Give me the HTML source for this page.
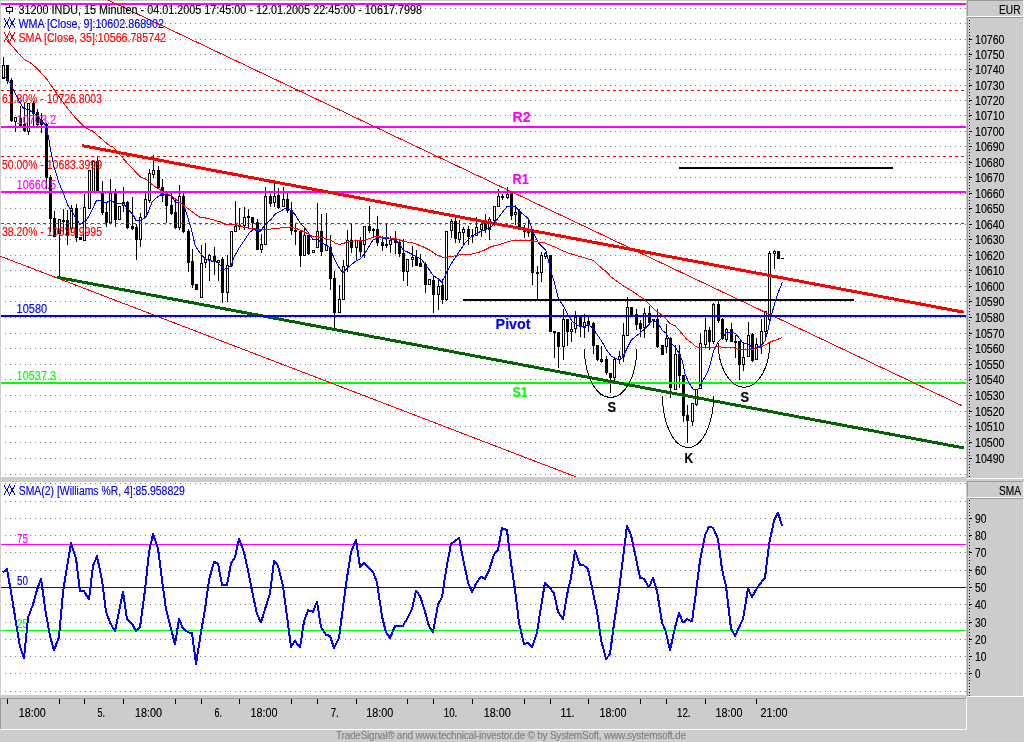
<!DOCTYPE html><html><head><meta charset="utf-8"><title>TradeSignal chart</title><style>html,body{margin:0;padding:0;background:#ccc;overflow:hidden}svg{display:block}text{font-family:"Liberation Sans",sans-serif}</style></head><body><svg width="1024" height="742" viewBox="0 0 1024 742" font-family='"Liberation Sans", sans-serif' shape-rendering="crispEdges"><defs><pattern id="gd" x="0" y="0" width="5" height="1" patternUnits="userSpaceOnUse"><rect x="0" y="0" width="1" height="1" fill="#808080"/></pattern><filter id="crisp" x="-5%" y="-20%" width="110%" height="140%"><feComponentTransfer><feFuncA type="gamma" amplitude="1" exponent="0.75" offset="0"/></feComponentTransfer></filter><pattern id="dash" x="1" y="0" width="6" height="1" patternUnits="userSpaceOnUse"><rect x="0" y="0" width="3" height="1" fill="#ff0000"/></pattern><pattern id="vd" x="0" y="2" width="1" height="3" patternUnits="userSpaceOnUse"><rect x="0" y="0" width="1" height="1" fill="#000"/></pattern></defs><rect x="0" y="0" width="1024" height="742" fill="#cccccc"/>
<rect x="1" y="1" width="965" height="476" fill="#fff"/>
<rect x="1" y="482" width="965" height="213" fill="#fff"/>
<rect x="967" y="0" width="57" height="17" fill="#cccccc"/>
<rect x="967" y="0" width="57" height="1" fill="#999999"/>
<rect x="967" y="0" width="1" height="17" fill="#999999"/>
<rect x="967" y="16" width="57" height="1" fill="#fff"/>
<rect x="1023" y="0" width="1" height="17" fill="#fff"/>
<rect x="967" y="17" width="57" height="462" fill="#cccccc"/>
<rect x="967" y="17" width="57" height="1" fill="#999999"/>
<rect x="967" y="17" width="1" height="462" fill="#999999"/>
<rect x="967" y="478" width="57" height="1" fill="#fff"/>
<rect x="1023" y="17" width="1" height="462" fill="#fff"/>
<rect x="967" y="481" width="57" height="17" fill="#cccccc"/>
<rect x="967" y="481" width="57" height="1" fill="#999999"/>
<rect x="967" y="481" width="1" height="17" fill="#999999"/>
<rect x="967" y="497" width="57" height="1" fill="#fff"/>
<rect x="1023" y="481" width="1" height="17" fill="#fff"/>
<rect x="967" y="498" width="57" height="199" fill="#cccccc"/>
<rect x="967" y="498" width="57" height="1" fill="#999999"/>
<rect x="967" y="498" width="1" height="199" fill="#999999"/>
<rect x="967" y="696" width="57" height="1" fill="#fff"/>
<rect x="1023" y="498" width="1" height="199" fill="#fff"/>
<rect x="0" y="698" width="967" height="32" fill="#cccccc"/>
<rect x="0" y="698" width="967" height="1" fill="#999999"/>
<rect x="0" y="698" width="1" height="32" fill="#999999"/>
<rect x="0" y="729" width="967" height="1" fill="#fff"/>
<rect x="966" y="698" width="1" height="32" fill="#fff"/>
<rect x="5" y="8" width="961" height="1" fill="url(#gd)"/>
<rect x="5" y="23" width="961" height="1" fill="url(#gd)"/>
<rect x="5" y="39" width="961" height="1" fill="url(#gd)"/>
<rect x="5" y="54" width="961" height="1" fill="url(#gd)"/>
<rect x="5" y="69" width="961" height="1" fill="url(#gd)"/>
<rect x="5" y="85" width="961" height="1" fill="url(#gd)"/>
<rect x="5" y="100" width="961" height="1" fill="url(#gd)"/>
<rect x="5" y="115" width="961" height="1" fill="url(#gd)"/>
<rect x="5" y="131" width="961" height="1" fill="url(#gd)"/>
<rect x="5" y="146" width="961" height="1" fill="url(#gd)"/>
<rect x="5" y="162" width="961" height="1" fill="url(#gd)"/>
<rect x="5" y="177" width="961" height="1" fill="url(#gd)"/>
<rect x="5" y="193" width="961" height="1" fill="url(#gd)"/>
<rect x="5" y="208" width="961" height="1" fill="url(#gd)"/>
<rect x="5" y="224" width="961" height="1" fill="url(#gd)"/>
<rect x="5" y="239" width="961" height="1" fill="url(#gd)"/>
<rect x="5" y="255" width="961" height="1" fill="url(#gd)"/>
<rect x="5" y="270" width="961" height="1" fill="url(#gd)"/>
<rect x="5" y="286" width="961" height="1" fill="url(#gd)"/>
<rect x="5" y="301" width="961" height="1" fill="url(#gd)"/>
<rect x="5" y="317" width="961" height="1" fill="url(#gd)"/>
<rect x="5" y="333" width="961" height="1" fill="url(#gd)"/>
<rect x="5" y="348" width="961" height="1" fill="url(#gd)"/>
<rect x="5" y="364" width="961" height="1" fill="url(#gd)"/>
<rect x="5" y="379" width="961" height="1" fill="url(#gd)"/>
<rect x="5" y="395" width="961" height="1" fill="url(#gd)"/>
<rect x="5" y="411" width="961" height="1" fill="url(#gd)"/>
<rect x="5" y="426" width="961" height="1" fill="url(#gd)"/>
<rect x="5" y="442" width="961" height="1" fill="url(#gd)"/>
<rect x="5" y="458" width="961" height="1" fill="url(#gd)"/>
<rect x="5" y="474" width="961" height="1" fill="url(#gd)"/>
<rect x="5" y="483" width="961" height="1" fill="url(#gd)"/>
<rect x="5" y="501" width="961" height="1" fill="url(#gd)"/>
<rect x="5" y="518" width="961" height="1" fill="url(#gd)"/>
<rect x="5" y="535" width="961" height="1" fill="url(#gd)"/>
<rect x="5" y="552" width="961" height="1" fill="url(#gd)"/>
<rect x="5" y="570" width="961" height="1" fill="url(#gd)"/>
<rect x="5" y="587" width="961" height="1" fill="url(#gd)"/>
<rect x="5" y="604" width="961" height="1" fill="url(#gd)"/>
<rect x="5" y="622" width="961" height="1" fill="url(#gd)"/>
<rect x="5" y="639" width="961" height="1" fill="url(#gd)"/>
<rect x="5" y="656" width="961" height="1" fill="url(#gd)"/>
<rect x="5" y="673" width="961" height="1" fill="url(#gd)"/>
<rect x="5" y="691" width="961" height="1" fill="url(#gd)"/>
<rect x="3" y="57" width="1" height="22" fill="#000"/>
<rect x="2" y="65" width="3" height="14" fill="#000"/>
<rect x="3" y="66" width="1" height="12" fill="#fff"/>
<rect x="7" y="65" width="1" height="19" fill="#000"/>
<rect x="6" y="65" width="3" height="16" fill="#000"/>
<rect x="11" y="78" width="1" height="44" fill="#000"/>
<rect x="10" y="80" width="3" height="41" fill="#000"/>
<rect x="15" y="117" width="1" height="15" fill="#000"/>
<rect x="14" y="117" width="3" height="5" fill="#000"/>
<rect x="15" y="118" width="1" height="3" fill="#fff"/>
<rect x="20" y="106" width="1" height="21" fill="#000"/>
<rect x="19" y="118" width="3" height="8" fill="#000"/>
<rect x="24" y="103" width="1" height="29" fill="#000"/>
<rect x="23" y="124" width="3" height="7" fill="#000"/>
<rect x="28" y="103" width="1" height="32" fill="#000"/>
<rect x="27" y="103" width="3" height="29" fill="#000"/>
<rect x="28" y="104" width="1" height="27" fill="#fff"/>
<rect x="33" y="101" width="1" height="26" fill="#000"/>
<rect x="32" y="103" width="3" height="11" fill="#000"/>
<rect x="37" y="109" width="1" height="17" fill="#000"/>
<rect x="36" y="112" width="3" height="13" fill="#000"/>
<rect x="41" y="113" width="1" height="20" fill="#000"/>
<rect x="40" y="120" width="3" height="5" fill="#000"/>
<rect x="46" y="123" width="1" height="66" fill="#000"/>
<rect x="45" y="124" width="3" height="54" fill="#000"/>
<rect x="50" y="175" width="1" height="57" fill="#000"/>
<rect x="49" y="177" width="3" height="42" fill="#000"/>
<rect x="54" y="211" width="1" height="26" fill="#000"/>
<rect x="53" y="218" width="3" height="19" fill="#000"/>
<rect x="59" y="219" width="1" height="58" fill="#000"/>
<rect x="58" y="219" width="3" height="15" fill="#000"/>
<rect x="59" y="220" width="1" height="13" fill="#fff"/>
<rect x="63" y="209" width="1" height="25" fill="#000"/>
<rect x="62" y="220" width="3" height="2" fill="#000"/>
<rect x="67" y="210" width="1" height="35" fill="#000"/>
<rect x="66" y="220" width="3" height="16" fill="#000"/>
<rect x="71" y="205" width="1" height="28" fill="#000"/>
<rect x="70" y="208" width="3" height="21" fill="#000"/>
<rect x="71" y="209" width="1" height="19" fill="#fff"/>
<rect x="76" y="204" width="1" height="38" fill="#000"/>
<rect x="75" y="208" width="3" height="30" fill="#000"/>
<rect x="80" y="237" width="1" height="3" fill="#000"/>
<rect x="79" y="237" width="3" height="3" fill="#000"/>
<rect x="84" y="194" width="1" height="47" fill="#000"/>
<rect x="83" y="207" width="3" height="34" fill="#000"/>
<rect x="84" y="208" width="1" height="32" fill="#fff"/>
<rect x="89" y="170" width="1" height="39" fill="#000"/>
<rect x="88" y="170" width="3" height="39" fill="#000"/>
<rect x="89" y="171" width="1" height="37" fill="#fff"/>
<rect x="93" y="160" width="1" height="32" fill="#000"/>
<rect x="92" y="161" width="3" height="31" fill="#000"/>
<rect x="93" y="162" width="1" height="29" fill="#fff"/>
<rect x="97" y="156" width="1" height="36" fill="#000"/>
<rect x="96" y="161" width="3" height="31" fill="#000"/>
<rect x="102" y="181" width="1" height="34" fill="#000"/>
<rect x="101" y="193" width="3" height="20" fill="#000"/>
<rect x="106" y="202" width="1" height="25" fill="#000"/>
<rect x="105" y="212" width="3" height="11" fill="#000"/>
<rect x="110" y="179" width="1" height="45" fill="#000"/>
<rect x="109" y="193" width="3" height="30" fill="#000"/>
<rect x="110" y="194" width="1" height="28" fill="#fff"/>
<rect x="115" y="189" width="1" height="38" fill="#000"/>
<rect x="114" y="191" width="3" height="29" fill="#000"/>
<rect x="119" y="206" width="1" height="14" fill="#000"/>
<rect x="118" y="206" width="3" height="14" fill="#000"/>
<rect x="119" y="207" width="1" height="12" fill="#fff"/>
<rect x="123" y="187" width="1" height="25" fill="#000"/>
<rect x="122" y="202" width="3" height="4" fill="#000"/>
<rect x="123" y="203" width="1" height="2" fill="#fff"/>
<rect x="127" y="201" width="1" height="28" fill="#000"/>
<rect x="126" y="202" width="3" height="26" fill="#000"/>
<rect x="132" y="197" width="1" height="33" fill="#000"/>
<rect x="131" y="226" width="3" height="3" fill="#000"/>
<rect x="136" y="224" width="1" height="36" fill="#000"/>
<rect x="135" y="227" width="3" height="13" fill="#000"/>
<rect x="140" y="213" width="1" height="34" fill="#000"/>
<rect x="139" y="217" width="3" height="23" fill="#000"/>
<rect x="140" y="218" width="1" height="21" fill="#fff"/>
<rect x="145" y="193" width="1" height="25" fill="#000"/>
<rect x="144" y="199" width="3" height="18" fill="#000"/>
<rect x="145" y="200" width="1" height="16" fill="#fff"/>
<rect x="149" y="169" width="1" height="34" fill="#000"/>
<rect x="148" y="173" width="3" height="28" fill="#000"/>
<rect x="149" y="174" width="1" height="26" fill="#fff"/>
<rect x="153" y="155" width="1" height="23" fill="#000"/>
<rect x="152" y="170" width="3" height="5" fill="#000"/>
<rect x="153" y="171" width="1" height="3" fill="#fff"/>
<rect x="158" y="166" width="1" height="23" fill="#000"/>
<rect x="157" y="170" width="3" height="18" fill="#000"/>
<rect x="162" y="179" width="1" height="23" fill="#000"/>
<rect x="161" y="187" width="3" height="9" fill="#000"/>
<rect x="166" y="194" width="1" height="29" fill="#000"/>
<rect x="165" y="195" width="3" height="11" fill="#000"/>
<rect x="171" y="193" width="1" height="22" fill="#000"/>
<rect x="170" y="205" width="3" height="9" fill="#000"/>
<rect x="175" y="199" width="1" height="30" fill="#000"/>
<rect x="174" y="212" width="3" height="16" fill="#000"/>
<rect x="179" y="185" width="1" height="45" fill="#000"/>
<rect x="178" y="196" width="3" height="32" fill="#000"/>
<rect x="179" y="197" width="1" height="30" fill="#fff"/>
<rect x="183" y="193" width="1" height="40" fill="#000"/>
<rect x="182" y="196" width="3" height="36" fill="#000"/>
<rect x="188" y="229" width="1" height="43" fill="#000"/>
<rect x="187" y="231" width="3" height="32" fill="#000"/>
<rect x="192" y="249" width="1" height="39" fill="#000"/>
<rect x="191" y="261" width="3" height="24" fill="#000"/>
<rect x="196" y="284" width="1" height="6" fill="#000"/>
<rect x="195" y="284" width="3" height="6" fill="#000"/>
<rect x="201" y="245" width="1" height="53" fill="#000"/>
<rect x="200" y="263" width="3" height="35" fill="#000"/>
<rect x="201" y="264" width="1" height="33" fill="#fff"/>
<rect x="205" y="243" width="1" height="25" fill="#000"/>
<rect x="204" y="259" width="3" height="4" fill="#000"/>
<rect x="205" y="260" width="1" height="2" fill="#fff"/>
<rect x="209" y="254" width="1" height="27" fill="#000"/>
<rect x="208" y="255" width="3" height="5" fill="#000"/>
<rect x="209" y="256" width="1" height="3" fill="#fff"/>
<rect x="214" y="247" width="1" height="28" fill="#000"/>
<rect x="213" y="256" width="3" height="6" fill="#000"/>
<rect x="218" y="260" width="1" height="21" fill="#000"/>
<rect x="217" y="260" width="3" height="3" fill="#000"/>
<rect x="218" y="261" width="1" height="1" fill="#fff"/>
<rect x="222" y="257" width="1" height="46" fill="#000"/>
<rect x="221" y="259" width="3" height="34" fill="#000"/>
<rect x="227" y="255" width="1" height="47" fill="#000"/>
<rect x="226" y="265" width="3" height="28" fill="#000"/>
<rect x="227" y="266" width="1" height="26" fill="#fff"/>
<rect x="231" y="231" width="1" height="36" fill="#000"/>
<rect x="230" y="231" width="3" height="35" fill="#000"/>
<rect x="231" y="232" width="1" height="33" fill="#fff"/>
<rect x="235" y="201" width="1" height="31" fill="#000"/>
<rect x="234" y="226" width="3" height="6" fill="#000"/>
<rect x="235" y="227" width="1" height="4" fill="#fff"/>
<rect x="239" y="208" width="1" height="22" fill="#000"/>
<rect x="238" y="225" width="3" height="2" fill="#000"/>
<rect x="244" y="207" width="1" height="23" fill="#000"/>
<rect x="243" y="217" width="3" height="9" fill="#000"/>
<rect x="244" y="218" width="1" height="7" fill="#fff"/>
<rect x="248" y="209" width="1" height="18" fill="#000"/>
<rect x="247" y="216" width="3" height="2" fill="#000"/>
<rect x="252" y="217" width="1" height="11" fill="#000"/>
<rect x="251" y="217" width="3" height="6" fill="#000"/>
<rect x="257" y="219" width="1" height="31" fill="#000"/>
<rect x="256" y="222" width="3" height="28" fill="#000"/>
<rect x="261" y="234" width="1" height="19" fill="#000"/>
<rect x="260" y="244" width="3" height="6" fill="#000"/>
<rect x="261" y="245" width="1" height="4" fill="#fff"/>
<rect x="265" y="187" width="1" height="58" fill="#000"/>
<rect x="264" y="196" width="3" height="49" fill="#000"/>
<rect x="265" y="197" width="1" height="47" fill="#fff"/>
<rect x="270" y="194" width="1" height="13" fill="#000"/>
<rect x="269" y="196" width="3" height="8" fill="#000"/>
<rect x="274" y="183" width="1" height="24" fill="#000"/>
<rect x="273" y="196" width="3" height="7" fill="#000"/>
<rect x="274" y="197" width="1" height="5" fill="#fff"/>
<rect x="278" y="188" width="1" height="21" fill="#000"/>
<rect x="277" y="195" width="3" height="13" fill="#000"/>
<rect x="283" y="187" width="1" height="20" fill="#000"/>
<rect x="282" y="199" width="3" height="8" fill="#000"/>
<rect x="283" y="200" width="1" height="6" fill="#fff"/>
<rect x="287" y="193" width="1" height="20" fill="#000"/>
<rect x="286" y="199" width="3" height="12" fill="#000"/>
<rect x="291" y="202" width="1" height="33" fill="#000"/>
<rect x="290" y="210" width="3" height="21" fill="#000"/>
<rect x="295" y="224" width="1" height="21" fill="#000"/>
<rect x="294" y="230" width="3" height="2" fill="#000"/>
<rect x="300" y="231" width="1" height="36" fill="#000"/>
<rect x="299" y="231" width="3" height="25" fill="#000"/>
<rect x="304" y="227" width="1" height="29" fill="#000"/>
<rect x="303" y="235" width="3" height="21" fill="#000"/>
<rect x="304" y="236" width="1" height="19" fill="#fff"/>
<rect x="308" y="234" width="1" height="21" fill="#000"/>
<rect x="307" y="235" width="3" height="19" fill="#000"/>
<rect x="313" y="250" width="1" height="3" fill="#000"/>
<rect x="312" y="250" width="3" height="3" fill="#000"/>
<rect x="313" y="251" width="1" height="1" fill="#fff"/>
<rect x="317" y="203" width="1" height="45" fill="#000"/>
<rect x="316" y="231" width="3" height="17" fill="#000"/>
<rect x="317" y="232" width="1" height="15" fill="#fff"/>
<rect x="321" y="214" width="1" height="42" fill="#000"/>
<rect x="320" y="231" width="3" height="21" fill="#000"/>
<rect x="326" y="213" width="1" height="38" fill="#000"/>
<rect x="325" y="245" width="3" height="6" fill="#000"/>
<rect x="326" y="246" width="1" height="4" fill="#fff"/>
<rect x="330" y="235" width="1" height="55" fill="#000"/>
<rect x="329" y="247" width="3" height="32" fill="#000"/>
<rect x="334" y="271" width="1" height="58" fill="#000"/>
<rect x="333" y="278" width="3" height="35" fill="#000"/>
<rect x="339" y="285" width="1" height="28" fill="#000"/>
<rect x="338" y="299" width="3" height="14" fill="#000"/>
<rect x="339" y="300" width="1" height="12" fill="#fff"/>
<rect x="343" y="260" width="1" height="40" fill="#000"/>
<rect x="342" y="266" width="3" height="34" fill="#000"/>
<rect x="343" y="267" width="1" height="32" fill="#fff"/>
<rect x="347" y="230" width="1" height="42" fill="#000"/>
<rect x="346" y="240" width="3" height="26" fill="#000"/>
<rect x="347" y="241" width="1" height="24" fill="#fff"/>
<rect x="351" y="224" width="1" height="29" fill="#000"/>
<rect x="350" y="240" width="3" height="8" fill="#000"/>
<rect x="356" y="240" width="1" height="21" fill="#000"/>
<rect x="355" y="240" width="3" height="8" fill="#000"/>
<rect x="356" y="241" width="1" height="6" fill="#fff"/>
<rect x="360" y="237" width="1" height="20" fill="#000"/>
<rect x="359" y="240" width="3" height="12" fill="#000"/>
<rect x="364" y="226" width="1" height="32" fill="#000"/>
<rect x="363" y="226" width="3" height="19" fill="#000"/>
<rect x="364" y="227" width="1" height="17" fill="#fff"/>
<rect x="369" y="206" width="1" height="27" fill="#000"/>
<rect x="368" y="226" width="3" height="5" fill="#000"/>
<rect x="373" y="228" width="1" height="9" fill="#000"/>
<rect x="372" y="229" width="3" height="2" fill="#000"/>
<rect x="377" y="216" width="1" height="30" fill="#000"/>
<rect x="376" y="229" width="3" height="14" fill="#000"/>
<rect x="382" y="236" width="1" height="15" fill="#000"/>
<rect x="381" y="242" width="3" height="4" fill="#000"/>
<rect x="386" y="224" width="1" height="24" fill="#000"/>
<rect x="385" y="244" width="3" height="2" fill="#000"/>
<rect x="390" y="236" width="1" height="17" fill="#000"/>
<rect x="389" y="240" width="3" height="5" fill="#000"/>
<rect x="390" y="241" width="1" height="3" fill="#fff"/>
<rect x="395" y="231" width="1" height="23" fill="#000"/>
<rect x="394" y="240" width="3" height="3" fill="#000"/>
<rect x="399" y="240" width="1" height="17" fill="#000"/>
<rect x="398" y="242" width="3" height="12" fill="#000"/>
<rect x="403" y="239" width="1" height="42" fill="#000"/>
<rect x="402" y="253" width="3" height="19" fill="#000"/>
<rect x="407" y="259" width="1" height="27" fill="#000"/>
<rect x="406" y="259" width="3" height="13" fill="#000"/>
<rect x="407" y="260" width="1" height="11" fill="#fff"/>
<rect x="412" y="246" width="1" height="21" fill="#000"/>
<rect x="411" y="257" width="3" height="3" fill="#000"/>
<rect x="412" y="258" width="1" height="1" fill="#fff"/>
<rect x="416" y="250" width="1" height="16" fill="#000"/>
<rect x="415" y="257" width="3" height="9" fill="#000"/>
<rect x="420" y="254" width="1" height="13" fill="#000"/>
<rect x="419" y="263" width="3" height="4" fill="#000"/>
<rect x="425" y="262" width="1" height="31" fill="#000"/>
<rect x="424" y="264" width="3" height="21" fill="#000"/>
<rect x="429" y="279" width="1" height="6" fill="#000"/>
<rect x="428" y="279" width="3" height="6" fill="#000"/>
<rect x="429" y="280" width="1" height="4" fill="#fff"/>
<rect x="433" y="276" width="1" height="37" fill="#000"/>
<rect x="432" y="280" width="3" height="15" fill="#000"/>
<rect x="438" y="280" width="1" height="30" fill="#000"/>
<rect x="437" y="286" width="3" height="9" fill="#000"/>
<rect x="438" y="287" width="1" height="7" fill="#fff"/>
<rect x="442" y="279" width="1" height="25" fill="#000"/>
<rect x="441" y="285" width="3" height="15" fill="#000"/>
<rect x="446" y="231" width="1" height="70" fill="#000"/>
<rect x="445" y="231" width="3" height="69" fill="#000"/>
<rect x="446" y="232" width="1" height="67" fill="#fff"/>
<rect x="451" y="219" width="1" height="19" fill="#000"/>
<rect x="450" y="221" width="3" height="10" fill="#000"/>
<rect x="451" y="222" width="1" height="8" fill="#fff"/>
<rect x="455" y="218" width="1" height="25" fill="#000"/>
<rect x="454" y="221" width="3" height="18" fill="#000"/>
<rect x="459" y="220" width="1" height="23" fill="#000"/>
<rect x="458" y="232" width="3" height="8" fill="#000"/>
<rect x="459" y="233" width="1" height="6" fill="#fff"/>
<rect x="463" y="227" width="1" height="17" fill="#000"/>
<rect x="462" y="229" width="3" height="4" fill="#000"/>
<rect x="463" y="230" width="1" height="2" fill="#fff"/>
<rect x="468" y="226" width="1" height="19" fill="#000"/>
<rect x="467" y="229" width="3" height="8" fill="#000"/>
<rect x="472" y="229" width="1" height="14" fill="#000"/>
<rect x="471" y="235" width="3" height="2" fill="#000"/>
<rect x="476" y="217" width="1" height="19" fill="#000"/>
<rect x="475" y="227" width="3" height="9" fill="#000"/>
<rect x="476" y="228" width="1" height="7" fill="#fff"/>
<rect x="481" y="224" width="1" height="13" fill="#000"/>
<rect x="480" y="224" width="3" height="6" fill="#000"/>
<rect x="481" y="225" width="1" height="4" fill="#fff"/>
<rect x="485" y="214" width="1" height="19" fill="#000"/>
<rect x="484" y="223" width="3" height="7" fill="#000"/>
<rect x="489" y="217" width="1" height="23" fill="#000"/>
<rect x="488" y="219" width="3" height="11" fill="#000"/>
<rect x="489" y="220" width="1" height="9" fill="#fff"/>
<rect x="494" y="206" width="1" height="20" fill="#000"/>
<rect x="493" y="206" width="3" height="15" fill="#000"/>
<rect x="494" y="207" width="1" height="13" fill="#fff"/>
<rect x="498" y="189" width="1" height="18" fill="#000"/>
<rect x="497" y="196" width="3" height="11" fill="#000"/>
<rect x="498" y="197" width="1" height="9" fill="#fff"/>
<rect x="502" y="194" width="1" height="6" fill="#000"/>
<rect x="501" y="196" width="3" height="2" fill="#000"/>
<rect x="507" y="187" width="1" height="12" fill="#000"/>
<rect x="506" y="194" width="3" height="4" fill="#000"/>
<rect x="507" y="195" width="1" height="2" fill="#fff"/>
<rect x="511" y="192" width="1" height="28" fill="#000"/>
<rect x="510" y="193" width="3" height="23" fill="#000"/>
<rect x="515" y="205" width="1" height="20" fill="#000"/>
<rect x="514" y="212" width="3" height="3" fill="#000"/>
<rect x="515" y="213" width="1" height="1" fill="#fff"/>
<rect x="519" y="209" width="1" height="18" fill="#000"/>
<rect x="518" y="211" width="3" height="16" fill="#000"/>
<rect x="524" y="225" width="1" height="13" fill="#000"/>
<rect x="523" y="229" width="3" height="3" fill="#000"/>
<rect x="528" y="219" width="1" height="18" fill="#000"/>
<rect x="527" y="231" width="3" height="2" fill="#000"/>
<rect x="532" y="229" width="1" height="56" fill="#000"/>
<rect x="531" y="229" width="3" height="44" fill="#000"/>
<rect x="537" y="266" width="1" height="34" fill="#000"/>
<rect x="536" y="272" width="3" height="2" fill="#000"/>
<rect x="541" y="252" width="1" height="30" fill="#000"/>
<rect x="540" y="255" width="3" height="18" fill="#000"/>
<rect x="541" y="256" width="1" height="16" fill="#fff"/>
<rect x="545" y="252" width="1" height="7" fill="#000"/>
<rect x="544" y="253" width="3" height="4" fill="#000"/>
<rect x="545" y="254" width="1" height="2" fill="#fff"/>
<rect x="550" y="255" width="1" height="77" fill="#000"/>
<rect x="549" y="255" width="3" height="77" fill="#000"/>
<rect x="554" y="331" width="1" height="27" fill="#000"/>
<rect x="553" y="331" width="3" height="2" fill="#000"/>
<rect x="558" y="332" width="1" height="36" fill="#000"/>
<rect x="557" y="332" width="3" height="15" fill="#000"/>
<rect x="563" y="309" width="1" height="51" fill="#000"/>
<rect x="562" y="319" width="3" height="28" fill="#000"/>
<rect x="563" y="320" width="1" height="26" fill="#fff"/>
<rect x="567" y="319" width="1" height="27" fill="#000"/>
<rect x="566" y="319" width="3" height="13" fill="#000"/>
<rect x="571" y="322" width="1" height="20" fill="#000"/>
<rect x="570" y="329" width="3" height="3" fill="#000"/>
<rect x="571" y="330" width="1" height="1" fill="#fff"/>
<rect x="575" y="311" width="1" height="22" fill="#000"/>
<rect x="574" y="317" width="3" height="12" fill="#000"/>
<rect x="575" y="318" width="1" height="10" fill="#fff"/>
<rect x="580" y="317" width="1" height="20" fill="#000"/>
<rect x="579" y="317" width="3" height="10" fill="#000"/>
<rect x="584" y="314" width="1" height="24" fill="#000"/>
<rect x="583" y="322" width="3" height="6" fill="#000"/>
<rect x="584" y="323" width="1" height="4" fill="#fff"/>
<rect x="588" y="317" width="1" height="15" fill="#000"/>
<rect x="587" y="321" width="3" height="5" fill="#000"/>
<rect x="593" y="322" width="1" height="32" fill="#000"/>
<rect x="592" y="323" width="3" height="23" fill="#000"/>
<rect x="597" y="345" width="1" height="16" fill="#000"/>
<rect x="596" y="345" width="3" height="15" fill="#000"/>
<rect x="601" y="346" width="1" height="17" fill="#000"/>
<rect x="600" y="359" width="3" height="3" fill="#000"/>
<rect x="606" y="356" width="1" height="19" fill="#000"/>
<rect x="605" y="359" width="3" height="14" fill="#000"/>
<rect x="610" y="373" width="1" height="20" fill="#000"/>
<rect x="609" y="373" width="3" height="5" fill="#000"/>
<rect x="614" y="357" width="1" height="24" fill="#000"/>
<rect x="613" y="359" width="3" height="19" fill="#000"/>
<rect x="614" y="360" width="1" height="17" fill="#fff"/>
<rect x="619" y="351" width="1" height="13" fill="#000"/>
<rect x="618" y="356" width="3" height="4" fill="#000"/>
<rect x="619" y="357" width="1" height="2" fill="#fff"/>
<rect x="623" y="323" width="1" height="39" fill="#000"/>
<rect x="622" y="335" width="3" height="22" fill="#000"/>
<rect x="623" y="336" width="1" height="20" fill="#fff"/>
<rect x="627" y="297" width="1" height="39" fill="#000"/>
<rect x="626" y="307" width="3" height="29" fill="#000"/>
<rect x="627" y="308" width="1" height="27" fill="#fff"/>
<rect x="631" y="307" width="1" height="9" fill="#000"/>
<rect x="630" y="307" width="3" height="9" fill="#000"/>
<rect x="636" y="309" width="1" height="21" fill="#000"/>
<rect x="635" y="314" width="3" height="11" fill="#000"/>
<rect x="640" y="320" width="1" height="17" fill="#000"/>
<rect x="639" y="323" width="3" height="6" fill="#000"/>
<rect x="644" y="308" width="1" height="30" fill="#000"/>
<rect x="643" y="313" width="3" height="15" fill="#000"/>
<rect x="644" y="314" width="1" height="13" fill="#fff"/>
<rect x="649" y="306" width="1" height="17" fill="#000"/>
<rect x="648" y="313" width="3" height="10" fill="#000"/>
<rect x="653" y="319" width="1" height="9" fill="#000"/>
<rect x="652" y="319" width="3" height="2" fill="#000"/>
<rect x="657" y="309" width="1" height="39" fill="#000"/>
<rect x="656" y="319" width="3" height="28" fill="#000"/>
<rect x="662" y="345" width="1" height="10" fill="#000"/>
<rect x="661" y="345" width="3" height="10" fill="#000"/>
<rect x="666" y="324" width="1" height="29" fill="#000"/>
<rect x="665" y="338" width="3" height="9" fill="#000"/>
<rect x="666" y="339" width="1" height="7" fill="#fff"/>
<rect x="670" y="337" width="1" height="61" fill="#000"/>
<rect x="669" y="338" width="3" height="50" fill="#000"/>
<rect x="675" y="345" width="1" height="45" fill="#000"/>
<rect x="674" y="354" width="3" height="36" fill="#000"/>
<rect x="675" y="355" width="1" height="34" fill="#fff"/>
<rect x="679" y="345" width="1" height="43" fill="#000"/>
<rect x="678" y="354" width="3" height="22" fill="#000"/>
<rect x="683" y="375" width="1" height="47" fill="#000"/>
<rect x="682" y="375" width="3" height="41" fill="#000"/>
<rect x="687" y="405" width="1" height="38" fill="#000"/>
<rect x="686" y="415" width="3" height="6" fill="#000"/>
<rect x="692" y="403" width="1" height="23" fill="#000"/>
<rect x="691" y="403" width="3" height="19" fill="#000"/>
<rect x="692" y="404" width="1" height="17" fill="#fff"/>
<rect x="696" y="389" width="1" height="17" fill="#000"/>
<rect x="695" y="389" width="3" height="16" fill="#000"/>
<rect x="696" y="390" width="1" height="14" fill="#fff"/>
<rect x="700" y="333" width="1" height="56" fill="#000"/>
<rect x="699" y="343" width="3" height="46" fill="#000"/>
<rect x="700" y="344" width="1" height="44" fill="#fff"/>
<rect x="705" y="318" width="1" height="29" fill="#000"/>
<rect x="704" y="330" width="3" height="15" fill="#000"/>
<rect x="705" y="331" width="1" height="13" fill="#fff"/>
<rect x="709" y="327" width="1" height="23" fill="#000"/>
<rect x="708" y="330" width="3" height="12" fill="#000"/>
<rect x="713" y="303" width="1" height="41" fill="#000"/>
<rect x="712" y="304" width="3" height="38" fill="#000"/>
<rect x="713" y="305" width="1" height="36" fill="#fff"/>
<rect x="718" y="301" width="1" height="22" fill="#000"/>
<rect x="717" y="304" width="3" height="17" fill="#000"/>
<rect x="722" y="318" width="1" height="22" fill="#000"/>
<rect x="721" y="319" width="3" height="20" fill="#000"/>
<rect x="726" y="328" width="1" height="14" fill="#000"/>
<rect x="725" y="329" width="3" height="11" fill="#000"/>
<rect x="726" y="330" width="1" height="9" fill="#fff"/>
<rect x="731" y="323" width="1" height="19" fill="#000"/>
<rect x="730" y="329" width="3" height="13" fill="#000"/>
<rect x="735" y="335" width="1" height="23" fill="#000"/>
<rect x="734" y="341" width="3" height="2" fill="#000"/>
<rect x="739" y="341" width="1" height="39" fill="#000"/>
<rect x="738" y="341" width="3" height="24" fill="#000"/>
<rect x="743" y="342" width="1" height="29" fill="#000"/>
<rect x="742" y="357" width="3" height="8" fill="#000"/>
<rect x="743" y="358" width="1" height="6" fill="#fff"/>
<rect x="748" y="322" width="1" height="35" fill="#000"/>
<rect x="747" y="335" width="3" height="22" fill="#000"/>
<rect x="748" y="336" width="1" height="20" fill="#fff"/>
<rect x="752" y="333" width="1" height="29" fill="#000"/>
<rect x="751" y="334" width="3" height="27" fill="#000"/>
<rect x="756" y="338" width="1" height="22" fill="#000"/>
<rect x="755" y="344" width="3" height="16" fill="#000"/>
<rect x="756" y="345" width="1" height="14" fill="#fff"/>
<rect x="761" y="319" width="1" height="35" fill="#000"/>
<rect x="760" y="331" width="3" height="14" fill="#000"/>
<rect x="761" y="332" width="1" height="12" fill="#fff"/>
<rect x="765" y="311" width="1" height="27" fill="#000"/>
<rect x="764" y="311" width="3" height="21" fill="#000"/>
<rect x="765" y="312" width="1" height="19" fill="#fff"/>
<rect x="769" y="251" width="1" height="70" fill="#000"/>
<rect x="768" y="253" width="3" height="67" fill="#000"/>
<rect x="769" y="254" width="1" height="65" fill="#fff"/>
<rect x="774" y="250" width="1" height="19" fill="#000"/>
<rect x="773" y="251" width="3" height="3" fill="#000"/>
<rect x="774" y="252" width="1" height="1" fill="#fff"/>
<rect x="778" y="251" width="1" height="8" fill="#000"/>
<rect x="777" y="251" width="3" height="8" fill="#000"/>
<rect x="781" y="258" width="3" height="1" fill="#000"/>
<rect x="1" y="90" width="965" height="1" fill="url(#dash)"/>
<rect x="1" y="156" width="965" height="1" fill="url(#dash)"/>
<rect x="1" y="223" width="965" height="1" fill="url(#dash)"/>
<rect x="1" y="3" width="965" height="2" fill="#ff00ff"/>
<rect x="1" y="126" width="965" height="2" fill="#ff00ff"/>
<rect x="1" y="191" width="965" height="2" fill="#ff00ff"/>
<rect x="1" y="382" width="965" height="2" fill="#00ff00"/>
<line x1="108" y1="0" x2="961.5" y2="405.5" stroke="#ff0000" stroke-width="1" stroke-linecap="round"/>
<line x1="0" y1="256.1" x2="575" y2="476.5" stroke="#ff0000" stroke-width="1" stroke-linecap="round"/>
<line x1="83.2" y1="145.8" x2="962.7" y2="312" stroke="#ff0000" stroke-width="3" stroke-linecap="round"/>
<line x1="58.2" y1="277.5" x2="962.9" y2="447.8" stroke="#006400" stroke-width="3" stroke-linecap="round"/>
<rect x="679" y="167" width="214" height="2" fill="#000"/>
<rect x="463" y="299" width="391" height="2" fill="#000"/>
<rect x="1" y="315" width="965" height="2" fill="#0000ff"/>
<path d="M584.5,349.2 A26.1,48.3 0 0 0 636.7,349.2" fill="none" stroke="#000" stroke-width="1"/>
<path d="M662.5,395.5 A25.6,52 0 0 0 713.7,395.5" fill="none" stroke="#000" stroke-width="1"/>
<path d="M718.2,342.8 A25.8,44.6 0 0 0 769.8,342.8" fill="none" stroke="#000" stroke-width="1"/>
<text x="2" y="103" fill="#ff0000" font-size="12" textLength="100" lengthAdjust="spacingAndGlyphs" filter="url(#crisp)">61.80% - 10726.8003</text>
<text x="2" y="169" fill="#ff0000" font-size="12" textLength="100" lengthAdjust="spacingAndGlyphs" filter="url(#crisp)">50.00% - 10683.3999</text>
<text x="2" y="236" fill="#ff0000" font-size="12" textLength="100" lengthAdjust="spacingAndGlyphs" filter="url(#crisp)">38.20% - 10639.9995</text>
<text x="16.6" y="124" fill="#ff00ff" font-size="12" textLength="39.5" lengthAdjust="spacingAndGlyphs" filter="url(#crisp)">10703.2</text>
<text x="16.6" y="189" fill="#ff00ff" font-size="12" textLength="39.5" lengthAdjust="spacingAndGlyphs" filter="url(#crisp)">10660.5</text>
<text x="16.6" y="313" fill="#0000ff" font-size="12" textLength="30.5" lengthAdjust="spacingAndGlyphs" filter="url(#crisp)">10580</text>
<text x="16.6" y="380" fill="#00ff00" font-size="12" textLength="39.5" lengthAdjust="spacingAndGlyphs" filter="url(#crisp)">10537.3</text>
<text x="512.6" y="122" fill="#ff00ff" font-size="14" textLength="18" lengthAdjust="spacingAndGlyphs" font-weight="bold" filter="url(#crisp)">R2</text>
<text x="512.6" y="184" fill="#ff00ff" font-size="14" textLength="16.2" lengthAdjust="spacingAndGlyphs" font-weight="bold" filter="url(#crisp)">R1</text>
<text x="495.6" y="329" fill="#0000ff" font-size="14" textLength="35" lengthAdjust="spacingAndGlyphs" font-weight="bold" filter="url(#crisp)">Pivot</text>
<text x="512.6" y="397" fill="#00ff00" font-size="14" textLength="15" lengthAdjust="spacingAndGlyphs" font-weight="bold" filter="url(#crisp)">S1</text>
<text x="607.6" y="412" fill="#000" font-size="14" textLength="8.6" lengthAdjust="spacingAndGlyphs" font-weight="bold" filter="url(#crisp)">S</text>
<text x="684.6" y="463" fill="#000" font-size="14" textLength="8.6" lengthAdjust="spacingAndGlyphs" font-weight="bold" filter="url(#crisp)">K</text>
<text x="740.6" y="402" fill="#000" font-size="14" textLength="8.6" lengthAdjust="spacingAndGlyphs" font-weight="bold" filter="url(#crisp)">S</text>
<polyline points="2.90,76.90 5.90,77.90 9.80,82.80 13.70,90.60 17.60,98.40 23.50,108.20 29.30,110.20 35.20,114.10 41.10,120.00 45.90,125.80 48.90,139.50 50.00,147.00 53.75,165.75 58.75,182.00 63.75,194.50 68.10,205.75 73.75,214.50 80.00,224.50 86.25,220.75 92.50,209.50 96.00,201.30 97.90,200.10 99.75,200.40 102.25,201.60 106.00,202.90 110.40,200.40 112.90,201.60 115.40,203.50 123.50,203.50 126.00,206.60 129.10,210.40 133.50,215.40 136.00,220.40 141.00,220.40 145.40,217.25 147.90,212.90 152.25,201.60 155.40,198.50 161.50,194.40 166.50,194.40 171.50,196.25 175.25,201.90 180.25,202.50 184.00,206.25 187.75,217.50 191.50,230.00 195.25,245.75 200.25,253.25 205.25,258.90 210.25,260.75 216.50,262.00 220.25,265.10 223.40,269.50 227.75,268.25 231.50,265.10 234.00,257.00 239.00,248.25 244.00,240.75 249.00,233.25 253.00,229.40 260.50,231.25 265.50,223.75 270.50,220.00 275.50,213.75 280.50,211.25 286.75,207.50 291.10,210.60 295.50,215.00 300.50,223.75 305.50,228.75 313.00,239.40 318.00,240.00 323.00,243.75 326.75,245.00 330.50,248.75 334.25,258.75 338.00,266.25 343.00,272.75 348.00,267.50 355.50,261.25 360.50,258.75 365.50,252.50 373.00,240.00 378.25,237.50 387.00,238.75 394.50,239.40 399.50,243.75 403.25,250.00 409.50,253.00 415.75,256.25 420.75,258.75 425.75,265.00 433.25,275.60 438.25,278.75 442.00,282.50 447.00,271.25 452.00,262.50 457.00,255.00 464.50,243.75 472.00,236.25 478.25,232.50 484.50,230.00 490.75,227.50 495.75,221.25 502.25,212.50 507.25,206.25 514.75,206.25 521.00,212.50 528.50,218.75 532.25,230.00 538.50,243.10 546.00,250.60 551.00,271.25 554.75,283.75 558.50,298.75 563.50,306.25 568.50,316.25 572.25,321.25 577.25,325.00 583.50,326.90 588.50,325.00 592.25,327.50 597.50,335.00 602.50,342.50 607.50,351.25 611.25,356.25 615.00,358.00 618.75,360.00 622.50,357.50 626.25,350.00 631.25,340.00 637.50,335.00 645.00,328.75 652.50,320.60 657.50,322.50 662.50,330.60 666.25,333.10 671.25,343.75 675.00,346.90 678.75,352.50 682.50,361.25 685.00,373.75 688.75,382.50 693.75,390.00 698.75,388.75 702.50,381.25 707.50,372.50 710.00,365.00 713.40,351.20 718.10,341.90 722.80,337.20 726.10,332.50 733.10,332.50 735.90,333.90 740.60,340.00 743.40,343.70 747.20,343.30 750.00,345.60 752.80,348.40 757.50,347.50 761.20,345.60 765.00,340.90 767.80,330.60 770.60,318.40 774.40,304.40 777.20,295.00 779.70,288.70 782.50,282.20" fill="none" stroke="#0000ff" stroke-width="1" stroke-linejoin="round"/>
<polyline points="4.90,37.80 11.70,45.60 19.50,54.40 25.00,60.00 30.00,62.50 37.50,68.75 47.50,80.00 55.00,91.00 65.00,105.00 75.00,117.50 85.00,127.50 92.50,131.00 100.00,137.50 110.00,146.00 113.40,147.30 124.00,159.40 130.25,166.25 140.25,176.90 146.50,179.40 150.25,183.10 155.25,186.90 162.75,191.25 167.75,193.75 171.50,195.60 176.50,200.00 181.50,203.75 186.50,207.50 191.50,211.25 196.50,215.00 200.25,217.50 206.50,218.10 214.00,220.00 220.25,221.90 225.25,224.40 230.25,224.40 236.50,225.00 242.75,226.90 249.00,228.10 254.25,228.75 261.75,230.00 273.00,228.75 285.50,227.50 290.50,226.90 296.75,228.75 301.75,230.60 308.00,233.75 311.75,236.25 318.00,236.90 324.25,238.10 330.50,240.00 335.50,243.10 339.25,244.40 344.25,243.10 348.00,241.90 354.25,241.00 363.00,240.60 369.25,238.75 375.50,236.25 384.50,237.50 395.75,238.75 403.25,241.25 413.25,243.10 422.00,246.25 429.50,250.00 437.00,255.00 443.25,257.50 449.50,256.90 459.50,255.00 470.75,254.40 478.25,252.50 484.50,250.00 492.00,246.25 496.00,245.60 503.50,243.10 512.25,240.60 521.00,240.00 531.00,240.60 537.25,241.90 543.50,242.50 549.75,245.00 556.00,247.50 562.25,250.60 568.50,253.10 574.75,255.00 583.50,257.50 593.50,260.60 602.25,268.75 606.00,271.25 611.00,276.90 618.50,282.50 624.00,286.25 635.00,293.00 645.00,300.00 656.25,311.25 663.75,316.25 670.00,323.75 675.00,325.60 680.00,331.25 686.25,338.75 691.25,342.50 696.25,346.90 700.00,347.40 712.00,347.70 718.25,346.50 720.60,346.70 722.20,347.70 733.90,347.70 735.40,348.50 737.80,349.20 752.60,349.20 758.10,348.10 762.80,346.10 768.25,343.20 773.70,340.40 776.00,340.00 782.00,337.60" fill="none" stroke="#ff0000" stroke-width="1" stroke-linejoin="round"/>
<path d="M9.5,5 V14" stroke="#000" stroke-width="1"/>
<rect x="6.5" y="7.5" width="6" height="4" fill="#fff" stroke="#000" stroke-width="1"/>
<text x="18.5" y="14" fill="#000" font-size="12" textLength="403.5" lengthAdjust="spacingAndGlyphs" filter="url(#crisp)">31200  INDU, 15 Minuten - 04.01.2005 17:45:00 - 12.01.2005 22:45:00 - 10617.7998</text>
<path d="M4,18 L9.5,28 L15,18 M4,28 L9.5,18 L15,28" fill="none" stroke="#0000ff" stroke-width="1"/>
<text x="18.5" y="28" fill="#0000ff" font-size="12" textLength="145.5" lengthAdjust="spacingAndGlyphs" filter="url(#crisp)">WMA [Close, 9]:10602.868902</text>
<path d="M4,32 L9.5,42 L15,32 M4,42 L9.5,32 L15,42" fill="none" stroke="#ff0000" stroke-width="1"/>
<text x="18.5" y="42" fill="#ff0000" font-size="12" textLength="147.5" lengthAdjust="spacingAndGlyphs" filter="url(#crisp)">SMA [Close, 35]:10566.785742</text>
<rect x="1" y="544" width="965" height="1" fill="#ff00ff"/>
<rect x="1" y="587" width="965" height="1" fill="#0000ff"/>
<rect x="1" y="630" width="965" height="1" fill="#00ff00"/>
<text x="17" y="543" fill="#ff00ff" font-size="12" textLength="11" lengthAdjust="spacingAndGlyphs" filter="url(#crisp)">75</text>
<text x="17" y="585" fill="#0000ff" font-size="12" textLength="11" lengthAdjust="spacingAndGlyphs" filter="url(#crisp)">50</text>
<text x="17" y="628" fill="#00ff00" font-size="12" textLength="11" lengthAdjust="spacingAndGlyphs" filter="url(#crisp)">25</text>
<polyline points="3.00,572.30 7.00,569.20 11.00,592.00 15.00,616.50 20.00,646.80 24.00,657.80 28.00,617.70 33.00,604.40 37.00,589.80 41.00,578.90 46.00,614.00 50.00,636.00 54.00,650.50 59.00,637.00 63.00,592.20 67.00,566.70 71.00,543.20 76.00,558.30 80.00,591.00 84.00,591.00 89.00,599.50 93.00,565.50 97.00,556.30 102.00,580.00 106.00,611.70 110.00,622.60 115.00,631.00 119.00,611.70 123.00,591.70 127.00,619.40 132.00,623.80 136.00,631.00 140.00,627.40 145.00,589.80 149.00,552.20 153.00,534.00 158.00,548.50 162.00,580.00 166.00,609.20 171.00,628.60 175.00,644.40 179.00,619.00 183.00,628.60 188.00,632.30 192.00,633.00 196.00,663.80 201.00,632.30 205.00,609.20 209.00,580.10 214.00,561.90 218.00,563.60 222.00,585.00 227.00,585.00 231.00,563.60 235.00,557.00 239.00,538.80 244.00,552.20 248.00,570.40 252.00,591.00 257.00,614.00 261.00,622.60 265.00,609.20 270.00,593.40 274.00,560.70 278.00,565.50 283.00,586.20 287.00,616.50 291.00,646.80 295.00,640.80 300.00,647.60 304.00,621.40 308.00,610.40 313.00,611.70 317.00,601.50 321.00,627.40 326.00,634.70 330.00,636.00 334.00,648.00 339.00,638.30 343.00,606.80 347.00,577.70 351.00,552.20 356.00,540.00 360.00,566.70 364.00,562.60 369.00,568.00 373.00,571.60 377.00,582.50 382.00,616.50 386.00,632.30 390.00,637.90 395.00,626.20 399.00,625.70 403.00,625.70 407.00,619.00 412.00,609.20 416.00,591.00 420.00,595.90 425.00,611.70 429.00,626.20 433.00,632.30 438.00,604.40 442.00,597.10 446.00,570.40 451.00,543.70 455.00,541.30 459.00,537.60 463.00,558.30 468.00,582.50 472.00,592.20 476.00,583.70 481.00,576.50 485.00,578.90 489.00,570.40 494.00,554.60 498.00,549.80 502.00,527.90 507.00,530.30 511.00,563.10 515.00,589.80 519.00,622.60 524.00,644.40 528.00,642.70 532.00,647.60 537.00,632.30 541.00,606.80 545.00,582.50 550.00,587.90 554.00,593.40 558.00,611.70 563.00,619.40 567.00,594.70 571.00,577.70 575.00,551.00 580.00,565.00 584.00,565.50 588.00,569.20 593.00,592.20 597.00,611.70 601.00,639.60 606.00,659.00 610.00,654.10 614.00,623.80 619.00,589.80 623.00,558.30 627.00,525.50 631.00,535.20 636.00,558.30 640.00,577.70 644.00,578.90 649.00,587.40 653.00,577.70 657.00,591.00 662.00,622.60 666.00,632.30 670.00,650.50 675.00,627.40 679.00,612.90 683.00,622.60 687.00,618.90 692.00,621.40 696.00,592.20 700.00,560.70 705.00,535.20 709.00,526.70 713.00,527.90 718.00,538.80 722.00,569.20 726.00,586.20 731.00,628.60 735.00,636.00 739.00,627.40 743.00,618.90 748.00,588.60 752.00,597.10 756.00,589.80 761.00,582.50 765.00,577.70 769.00,544.50 774.00,520.50 778.00,512.60 782.00,525.80" fill="none" stroke="#0000ff" stroke-width="2" stroke-linejoin="round"/>
<path d="M4,485 L9.5,495 L15,485 M4,495 L9.5,485 L15,495" fill="none" stroke="#0000ff" stroke-width="1"/>
<text x="18.75" y="495" fill="#0000ff" font-size="12" textLength="166" lengthAdjust="spacingAndGlyphs" filter="url(#crisp)">SMA(2) [Williams %R, 4]:85.958829</text>
<rect x="969" y="18" width="1" height="460" fill="url(#vd)"/>
<rect x="969" y="499" width="1" height="197" fill="url(#vd)"/>
<rect x="969" y="39" width="3" height="1" fill="#000"/>
<text x="975" y="44" fill="#000" font-size="12" textLength="29.5" lengthAdjust="spacingAndGlyphs" filter="url(#crisp)">10760</text>
<rect x="969" y="54" width="3" height="1" fill="#000"/>
<text x="975" y="59" fill="#000" font-size="12" textLength="29.5" lengthAdjust="spacingAndGlyphs" filter="url(#crisp)">10750</text>
<rect x="969" y="69" width="3" height="1" fill="#000"/>
<text x="975" y="74" fill="#000" font-size="12" textLength="29.5" lengthAdjust="spacingAndGlyphs" filter="url(#crisp)">10740</text>
<rect x="969" y="85" width="3" height="1" fill="#000"/>
<text x="975" y="90" fill="#000" font-size="12" textLength="29.5" lengthAdjust="spacingAndGlyphs" filter="url(#crisp)">10730</text>
<rect x="969" y="100" width="3" height="1" fill="#000"/>
<text x="975" y="105" fill="#000" font-size="12" textLength="29.5" lengthAdjust="spacingAndGlyphs" filter="url(#crisp)">10720</text>
<rect x="969" y="115" width="3" height="1" fill="#000"/>
<text x="975" y="120" fill="#000" font-size="12" textLength="29.5" lengthAdjust="spacingAndGlyphs" filter="url(#crisp)">10710</text>
<rect x="969" y="131" width="3" height="1" fill="#000"/>
<text x="975" y="136" fill="#000" font-size="12" textLength="29.5" lengthAdjust="spacingAndGlyphs" filter="url(#crisp)">10700</text>
<rect x="969" y="146" width="3" height="1" fill="#000"/>
<text x="975" y="151" fill="#000" font-size="12" textLength="29.5" lengthAdjust="spacingAndGlyphs" filter="url(#crisp)">10690</text>
<rect x="969" y="162" width="3" height="1" fill="#000"/>
<text x="975" y="167" fill="#000" font-size="12" textLength="29.5" lengthAdjust="spacingAndGlyphs" filter="url(#crisp)">10680</text>
<rect x="969" y="177" width="3" height="1" fill="#000"/>
<text x="975" y="182" fill="#000" font-size="12" textLength="29.5" lengthAdjust="spacingAndGlyphs" filter="url(#crisp)">10670</text>
<rect x="969" y="193" width="3" height="1" fill="#000"/>
<text x="975" y="198" fill="#000" font-size="12" textLength="29.5" lengthAdjust="spacingAndGlyphs" filter="url(#crisp)">10660</text>
<rect x="969" y="208" width="3" height="1" fill="#000"/>
<text x="975" y="213" fill="#000" font-size="12" textLength="29.5" lengthAdjust="spacingAndGlyphs" filter="url(#crisp)">10650</text>
<rect x="969" y="224" width="3" height="1" fill="#000"/>
<text x="975" y="229" fill="#000" font-size="12" textLength="29.5" lengthAdjust="spacingAndGlyphs" filter="url(#crisp)">10640</text>
<rect x="969" y="239" width="3" height="1" fill="#000"/>
<text x="975" y="244" fill="#000" font-size="12" textLength="29.5" lengthAdjust="spacingAndGlyphs" filter="url(#crisp)">10630</text>
<rect x="969" y="255" width="3" height="1" fill="#000"/>
<text x="975" y="260" fill="#000" font-size="12" textLength="29.5" lengthAdjust="spacingAndGlyphs" filter="url(#crisp)">10620</text>
<rect x="969" y="270" width="3" height="1" fill="#000"/>
<text x="975" y="275" fill="#000" font-size="12" textLength="29.5" lengthAdjust="spacingAndGlyphs" filter="url(#crisp)">10610</text>
<rect x="969" y="286" width="3" height="1" fill="#000"/>
<text x="975" y="291" fill="#000" font-size="12" textLength="29.5" lengthAdjust="spacingAndGlyphs" filter="url(#crisp)">10600</text>
<rect x="969" y="301" width="3" height="1" fill="#000"/>
<text x="975" y="306" fill="#000" font-size="12" textLength="29.5" lengthAdjust="spacingAndGlyphs" filter="url(#crisp)">10590</text>
<rect x="969" y="317" width="3" height="1" fill="#000"/>
<text x="975" y="322" fill="#000" font-size="12" textLength="29.5" lengthAdjust="spacingAndGlyphs" filter="url(#crisp)">10580</text>
<rect x="969" y="333" width="3" height="1" fill="#000"/>
<text x="975" y="338" fill="#000" font-size="12" textLength="29.5" lengthAdjust="spacingAndGlyphs" filter="url(#crisp)">10570</text>
<rect x="969" y="348" width="3" height="1" fill="#000"/>
<text x="975" y="353" fill="#000" font-size="12" textLength="29.5" lengthAdjust="spacingAndGlyphs" filter="url(#crisp)">10560</text>
<rect x="969" y="364" width="3" height="1" fill="#000"/>
<text x="975" y="369" fill="#000" font-size="12" textLength="29.5" lengthAdjust="spacingAndGlyphs" filter="url(#crisp)">10550</text>
<rect x="969" y="379" width="3" height="1" fill="#000"/>
<text x="975" y="384" fill="#000" font-size="12" textLength="29.5" lengthAdjust="spacingAndGlyphs" filter="url(#crisp)">10540</text>
<rect x="969" y="395" width="3" height="1" fill="#000"/>
<text x="975" y="400" fill="#000" font-size="12" textLength="29.5" lengthAdjust="spacingAndGlyphs" filter="url(#crisp)">10530</text>
<rect x="969" y="411" width="3" height="1" fill="#000"/>
<text x="975" y="416" fill="#000" font-size="12" textLength="29.5" lengthAdjust="spacingAndGlyphs" filter="url(#crisp)">10520</text>
<rect x="969" y="426" width="3" height="1" fill="#000"/>
<text x="975" y="431" fill="#000" font-size="12" textLength="29.5" lengthAdjust="spacingAndGlyphs" filter="url(#crisp)">10510</text>
<rect x="969" y="442" width="3" height="1" fill="#000"/>
<text x="975" y="447" fill="#000" font-size="12" textLength="29.5" lengthAdjust="spacingAndGlyphs" filter="url(#crisp)">10500</text>
<rect x="969" y="458" width="3" height="1" fill="#000"/>
<text x="975" y="463" fill="#000" font-size="12" textLength="29.5" lengthAdjust="spacingAndGlyphs" filter="url(#crisp)">10490</text>
<rect x="969" y="518" width="3" height="1" fill="#000"/>
<text x="975" y="523" fill="#000" font-size="12" textLength="11.5" lengthAdjust="spacingAndGlyphs" filter="url(#crisp)">90</text>
<rect x="969" y="535" width="3" height="1" fill="#000"/>
<text x="975" y="540" fill="#000" font-size="12" textLength="11.5" lengthAdjust="spacingAndGlyphs" filter="url(#crisp)">80</text>
<rect x="969" y="552" width="3" height="1" fill="#000"/>
<text x="975" y="557" fill="#000" font-size="12" textLength="11.5" lengthAdjust="spacingAndGlyphs" filter="url(#crisp)">70</text>
<rect x="969" y="570" width="3" height="1" fill="#000"/>
<text x="975" y="575" fill="#000" font-size="12" textLength="11.5" lengthAdjust="spacingAndGlyphs" filter="url(#crisp)">60</text>
<rect x="969" y="587" width="3" height="1" fill="#000"/>
<text x="975" y="592" fill="#000" font-size="12" textLength="11.5" lengthAdjust="spacingAndGlyphs" filter="url(#crisp)">50</text>
<rect x="969" y="604" width="3" height="1" fill="#000"/>
<text x="975" y="609" fill="#000" font-size="12" textLength="11.5" lengthAdjust="spacingAndGlyphs" filter="url(#crisp)">40</text>
<rect x="969" y="622" width="3" height="1" fill="#000"/>
<text x="975" y="627" fill="#000" font-size="12" textLength="11.5" lengthAdjust="spacingAndGlyphs" filter="url(#crisp)">30</text>
<rect x="969" y="639" width="3" height="1" fill="#000"/>
<text x="975" y="644" fill="#000" font-size="12" textLength="11.5" lengthAdjust="spacingAndGlyphs" filter="url(#crisp)">20</text>
<rect x="969" y="656" width="3" height="1" fill="#000"/>
<text x="975" y="661" fill="#000" font-size="12" textLength="11.5" lengthAdjust="spacingAndGlyphs" filter="url(#crisp)">10</text>
<rect x="969" y="673" width="3" height="1" fill="#000"/>
<text x="975" y="678" fill="#000" font-size="12" textLength="5.5" lengthAdjust="spacingAndGlyphs" filter="url(#crisp)">0</text>
<text x="999" y="14" fill="#000" font-size="12" textLength="21.5" lengthAdjust="spacingAndGlyphs" filter="url(#crisp)">EUR</text>
<text x="999" y="495" fill="#000" font-size="12" textLength="22" lengthAdjust="spacingAndGlyphs" filter="url(#crisp)">SMA</text>
<rect x="7" y="699" width="1" height="5" fill="#000"/>
<rect x="59" y="699" width="1" height="5" fill="#000"/>
<rect x="84" y="699" width="1" height="5" fill="#000"/>
<rect x="123" y="699" width="1" height="5" fill="#000"/>
<rect x="175" y="699" width="1" height="5" fill="#000"/>
<rect x="201" y="699" width="1" height="5" fill="#000"/>
<rect x="239" y="699" width="1" height="5" fill="#000"/>
<rect x="291" y="699" width="1" height="5" fill="#000"/>
<rect x="317" y="699" width="1" height="5" fill="#000"/>
<rect x="356" y="699" width="1" height="5" fill="#000"/>
<rect x="407" y="699" width="1" height="5" fill="#000"/>
<rect x="433" y="699" width="1" height="5" fill="#000"/>
<rect x="472" y="699" width="1" height="5" fill="#000"/>
<rect x="524" y="699" width="1" height="5" fill="#000"/>
<rect x="550" y="699" width="1" height="5" fill="#000"/>
<rect x="588" y="699" width="1" height="5" fill="#000"/>
<rect x="640" y="699" width="1" height="5" fill="#000"/>
<rect x="666" y="699" width="1" height="5" fill="#000"/>
<rect x="705" y="699" width="1" height="5" fill="#000"/>
<rect x="756" y="699" width="1" height="5" fill="#000"/>
<text x="18.75" y="717" fill="#000" font-size="12" textLength="27" lengthAdjust="spacingAndGlyphs" filter="url(#crisp)">18:00</text>
<text x="97.5" y="717" fill="#000" font-size="12" textLength="7.5" lengthAdjust="spacingAndGlyphs" filter="url(#crisp)">5.</text>
<text x="135" y="717" fill="#000" font-size="12" textLength="27" lengthAdjust="spacingAndGlyphs" filter="url(#crisp)">18:00</text>
<text x="214.5" y="717" fill="#000" font-size="12" textLength="7.5" lengthAdjust="spacingAndGlyphs" filter="url(#crisp)">6.</text>
<text x="250.5" y="717" fill="#000" font-size="12" textLength="27" lengthAdjust="spacingAndGlyphs" filter="url(#crisp)">18:00</text>
<text x="330.75" y="717" fill="#000" font-size="12" textLength="8" lengthAdjust="spacingAndGlyphs" filter="url(#crisp)">7.</text>
<text x="366.25" y="717" fill="#000" font-size="12" textLength="27" lengthAdjust="spacingAndGlyphs" filter="url(#crisp)">18:00</text>
<text x="443.75" y="717" fill="#000" font-size="12" textLength="13.5" lengthAdjust="spacingAndGlyphs" filter="url(#crisp)">10.</text>
<text x="483.75" y="717" fill="#000" font-size="12" textLength="27" lengthAdjust="spacingAndGlyphs" filter="url(#crisp)">18:00</text>
<text x="560.5" y="717" fill="#000" font-size="12" textLength="14" lengthAdjust="spacingAndGlyphs" filter="url(#crisp)">11.</text>
<text x="599.5" y="717" fill="#000" font-size="12" textLength="27" lengthAdjust="spacingAndGlyphs" filter="url(#crisp)">18:00</text>
<text x="677" y="717" fill="#000" font-size="12" textLength="13.5" lengthAdjust="spacingAndGlyphs" filter="url(#crisp)">12.</text>
<text x="715.5" y="717" fill="#000" font-size="12" textLength="27" lengthAdjust="spacingAndGlyphs" filter="url(#crisp)">18:00</text>
<text x="760.5" y="717" fill="#000" font-size="12" textLength="27" lengthAdjust="spacingAndGlyphs" filter="url(#crisp)">21:00</text>
<text x="336" y="739" fill="#808080" font-size="10" textLength="350" lengthAdjust="spacing" filter="url(#crisp)">TradeSignal® and www.technical-investor.de © by  SystemSoft, www.systemsoft.de</text></svg></body></html>
